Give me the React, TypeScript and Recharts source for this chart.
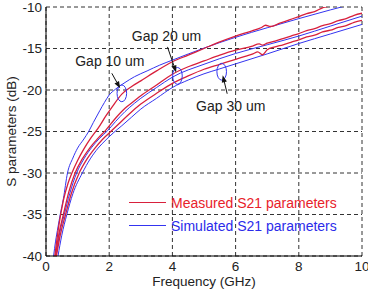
import React from 'react';
import {
  LineChart,
  Line,
  XAxis,
  YAxis,
  CartesianGrid,
  ReferenceDot,
  Legend,
  Label,
} from 'recharts';

// axis ticks
const xTicks = [0, 2, 4, 6, 8, 10];
const yTicks = [-40, -35, -30, -25, -20, -15, -10];

// Gap 10 um
const gap10MeasFreq = [0.28, 0.4, 0.55, 0.7, 0.82, 1.0, 1.2, 1.4, 1.65, 1.9, 2.1, 2.4, 2.7, 3.0, 3.5, 4.0, 4.5, 5.0, 5.5, 6.0, 6.5, 6.8, 6.95, 7.1, 7.4, 7.7, 8.0, 8.25, 8.5, 8.75, 8.9, 9.1];
const gap10MeasDb = [-40, -36.5, -33.3, -31.2, -30, -28.5, -27.1, -25.9, -24.6, -23.1, -22.0, -20.5, -19.6, -18.9, -17.7, -16.6, -15.8, -15.0, -14.2, -13.5, -12.9, -12.5, -12.2, -12.35, -11.95, -11.55, -11.15, -10.8, -10.55, -10.1, -9.95, -9.6];
const gap10SimFreq = [0.24, 0.3, 0.38, 0.45, 0.55, 0.68, 0.85, 1.0, 1.2, 1.35, 1.5, 1.7, 1.85, 2.0, 2.2, 2.5, 2.8, 3.2, 3.6, 4.0, 5.0, 6.0, 7.0, 8.0, 9.0, 10];
const gap10SimDb = [-40, -38.3, -36.5, -35, -33.1, -30, -28.2, -27.0, -25.9, -25.0, -23.9, -22.5, -21.5, -20.6, -19.9, -19.1, -18.4, -17.7, -17.0, -16.4, -14.95, -13.65, -12.5, -11.4, -10.35, -9.35];

// Gap 20 um
const gap20MeasFreq = [0.3, 0.4, 0.55, 0.72, 0.92, 1.15, 1.4, 1.65, 1.9, 2.2, 2.5, 2.8, 3.0, 3.5, 4.0, 4.5, 5.0, 5.5, 6.0, 6.5, 6.75, 6.85, 7.0, 7.25, 7.5, 7.75, 8.0, 8.25, 8.5, 8.75, 9.0, 9.25, 9.5, 9.75, 10];
const gap20MeasDb = [-40, -37.5, -35, -32.3, -30, -28.3, -26.9, -25.8, -24.8, -23.4, -22.2, -21.3, -20.7, -19.4, -18.1, -17.2, -16.5, -15.8, -15.2, -14.75, -14.45, -14.6, -14.35, -14.1, -13.8, -13.5, -13.2, -12.85, -12.6, -12.25, -12.0, -11.65, -11.4, -11.0, -10.75];
const gap20SimFreq = [0.32, 0.42, 0.58, 0.75, 0.97, 1.2, 1.45, 1.7, 1.95, 2.2, 2.5, 2.8, 3.0, 3.5, 4.0, 5.0, 6.0, 7.0, 8.0, 9.0, 10];
const gap20SimDb = [-40, -37.5, -35, -32.5, -30, -28.3, -26.9, -25.8, -24.9, -23.8, -22.6, -21.6, -21.0, -19.7, -18.45, -16.9, -15.6, -14.55, -13.5, -12.3, -11.1];

// Gap 30 um
const gap30MeasFreq = [0.33, 0.45, 0.62, 0.8, 1.05, 1.3, 1.55, 1.8, 2.05, 2.3, 2.6, 3.0, 3.5, 4.0, 4.5, 5.0, 5.5, 6.0, 6.3, 6.55, 6.7, 6.85, 7.0, 7.25, 7.5, 7.75, 8.0, 8.25, 8.5, 8.75, 9.0, 9.25, 9.5, 9.75, 10];
const gap30MeasDb = [-40, -37.5, -35, -32.5, -30, -28.3, -27.0, -25.9, -25.0, -24.1, -23.0, -21.7, -20.4, -19.2, -18.3, -17.5, -16.9, -16.3, -15.95, -15.65, -15.4, -15.75, -15.15, -14.8, -14.55, -14.25, -13.95, -13.6, -13.4, -13.0, -12.8, -12.45, -12.25, -11.85, -11.6];
const gap30SimFreq = [0.38, 0.5, 0.66, 0.85, 1.15, 1.4, 1.65, 1.9, 2.15, 2.4, 2.7, 3.0, 3.5, 4.0, 4.5, 5.0, 5.5, 6.0, 7.0, 8.0, 9.0, 10];
const gap30SimDb = [-40, -37.5, -35, -32.5, -30, -28.3, -27.0, -26.0, -25.1, -24.3, -23.3, -22.3, -21.0, -19.7, -18.8, -18.05, -17.45, -16.85, -15.65, -14.4, -13.25, -12.1];

// callouts: label, frequency and level of the circled spot
const calloutLabels = ['Gap 10 um', 'Gap 20 um', 'Gap 30 um'];
const calloutFreq = [2.4, 4.16, 5.56];
const calloutDb = [-20.4, -18.3, -17.8];

const legendLabels = ['Measured S21 parameters', 'Simulated S21 parameters'];

const FONT = '"Liberation Sans", Arial, Helvetica, sans-serif';
const MEAS = '#d8203c';
const SIM = '#3434f0';

const toPoints = (freq: number[], db: number[]) => freq.map((f, i) => ({ f, v: db[i] }));

const measured = [
  toPoints(gap10MeasFreq, gap10MeasDb),
  toPoints(gap20MeasFreq, gap20MeasDb),
  toPoints(gap30MeasFreq, gap30MeasDb),
];
const simulated = [
  toPoints(gap10SimFreq, gap10SimDb),
  toPoints(gap20SimFreq, gap20SimDb),
  toPoints(gap30SimFreq, gap30SimDb),
];

// pixel offsets of text and arrow relative to each ellipse
const calloutLayout = [
  { tx: -12, ty: -32, x1: -10, y1: -20, x2: -1.7, y2: -5 },
  { tx: -11, ty: -40, x1: -10, y1: -29, x2: -1.3, y2: -3.5 },
  { tx: 9, ty: 34, x1: 5.5, y1: 22, x2: 1, y2: 3.5 },
];

const Callout = (props: any) => {
  const { cx, cy, idx } = props;
  if (cx == null || cy == null) return null;
  const l = calloutLayout[idx];
  const sx = cx + l.x1;
  const sy = cy + l.y1;
  const ex = cx + l.x2;
  const ey = cy + l.y2;
  const len = Math.hypot(ex - sx, ey - sy);
  const ux = (ex - sx) / len;
  const uy = (ey - sy) / len;
  const hl = 7;
  const hw = 2.6;
  const bx = ex - ux * hl;
  const by = ey - uy * hl;
  const head = `${ex},${ey} ${bx - uy * hw},${by + ux * hw} ${bx + uy * hw},${by - ux * hw}`;
  return (
    <g>
      <ellipse cx={cx} cy={cy} rx={4.8} ry={8.4} fill="none" stroke={SIM} strokeWidth={1} />
      <line x1={sx} y1={sy} x2={bx} y2={by} stroke="#111" strokeWidth={1} />
      <polygon points={head} fill="#111" />
      <text
        x={cx + l.tx}
        y={cy + l.ty}
        textAnchor="middle"
        dominantBaseline="central"
        fontFamily={FONT}
        fontSize={14}
        fill="#222"
      >
        {calloutLabels[idx]}
      </text>
    </g>
  );
};

const YLabel = (props: any) => {
  const vb = props.viewBox || { x: 0, y: 7, width: 46, height: 249 };
  const x = vb.x + 11;
  const y = vb.y + vb.height / 2;
  return (
    <text
      x={x}
      y={y}
      transform={`rotate(-90 ${x} ${y})`}
      textAnchor="middle"
      dominantBaseline="central"
      fontFamily={FONT}
      fontSize={13.5}
      fill="#222"
    >
      S parameters (dB)
    </text>
  );
};

const LegendBox = () => (
  <div style={{ fontFamily: FONT, fontSize: 14 }}>
    {legendLabels.map((label, i) => (
      <div key={label} style={{ display: 'flex', alignItems: 'center', height: 23 }}>
        <svg width={37} height={3} style={{ marginRight: 5 }}>
          <line x1={0} y1={1.5} x2={37} y2={1.5} stroke={i === 0 ? MEAS : SIM} strokeWidth={1.2} />
        </svg>
        <span style={{ color: i === 0 ? '#e8222a' : '#2b2bea', whiteSpace: 'nowrap' }}>{label}</span>
      </div>
    ))}
  </div>
);

export default function App() {
  const tickStyle = { fontSize: 13.5, fill: '#222', fontFamily: FONT };
  return (
    <div style={{ position: 'absolute', left: 0, top: 0 }}>
      <LineChart width={368} height={290} margin={{ top: 7, right: 6, bottom: 0, left: 0 }}>
        <CartesianGrid stroke="#333" strokeDasharray="4 3" />
        <XAxis
          dataKey="f"
          type="number"
          domain={[0, 10]}
          ticks={xTicks}
          allowDataOverflow
          height={34}
          tickLine={false}
          tickSize={0}
          tickMargin={5}
          tick={tickStyle}
          axisLine={{ stroke: '#000' }}
          interval={0}
        >
          <Label
            value="Frequency (GHz)"
            position="insideBottom"
            offset={4}
            style={{ fontSize: 13.5, fill: '#222', fontFamily: FONT }}
          />
        </XAxis>
        <XAxis
          xAxisId="top"
          orientation="top"
          type="number"
          domain={[0, 10]}
          height={0}
          tick={false}
          tickLine={false}
          axisLine={{ stroke: '#000' }}
        />
        <YAxis
          type="number"
          domain={[-40, -10]}
          ticks={yTicks}
          allowDataOverflow
          width={46}
          tickLine={false}
          tickSize={0}
          tickMargin={4}
          tick={tickStyle}
          axisLine={{ stroke: '#000' }}
          interval={0}
        >
          <Label content={YLabel} />
        </YAxis>
        <YAxis
          yAxisId="right"
          orientation="right"
          type="number"
          domain={[-40, -10]}
          width={0}
          tick={false}
          tickLine={false}
          axisLine={{ stroke: '#000' }}
        />
        {simulated.map((d, i) => (
          <Line
            key={`sim${i}`}
            data={d}
            dataKey="v"
            type="monotone"
            stroke={SIM}
            strokeWidth={1}
            dot={false}
            activeDot={false}
            isAnimationActive={false}
          />
        ))}
        {measured.map((d, i) => (
          <Line
            key={`meas${i}`}
            data={d}
            dataKey="v"
            type="monotone"
            stroke={MEAS}
            strokeWidth={1.3}
            dot={false}
            activeDot={false}
            isAnimationActive={false}
          />
        ))}
        {calloutLabels.map((label, i) => (
          <ReferenceDot
            key={label}
            x={calloutFreq[i]}
            y={calloutDb[i]}
            r={5}
            shape={(p: any) => <Callout {...p} idx={i} />}
          />
        ))}
        <Legend
          layout="horizontal"
          verticalAlign="middle"
          align="center"
          wrapperStyle={{ left: 129, top: 191, width: 230 }}
          content={() => <LegendBox />}
        />
      </LineChart>
    </div>
  );
}
